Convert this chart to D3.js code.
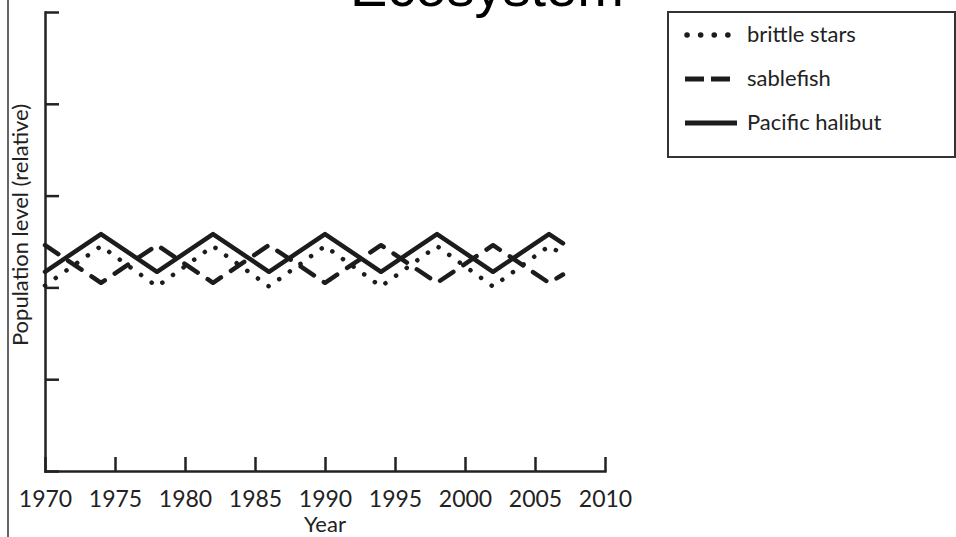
<!DOCTYPE html>
<html lang="en">
<head>
    <meta charset="UTF-8">
    <title>Ecosystem</title>
    <script src="https://d3js.org/d3.v7.min.js"></script>
    <style>
        body {
            margin: 0;
            background: #fff;
        }

        svg {
            display: block;
        }

        text {
            font-family: Lato, "Open Sans", sans-serif;
            fill: #222;
        }

        .title {
            font-family: "Liberation Sans", Arial, sans-serif;
            fill: #000;
        }

        .axis path, .axis line {
            stroke: #222;
            stroke-width: 2.5;
        }
    </style>
</head>

<body>
<div id="content"></div>

<script>
    // chart data
    const years = [1970, 1974, 1978, 1982, 1986, 1990, 1994, 1998, 2002, 2006, 2007];
    const brittleStars = [2.02, 2.45, 2.01, 2.45, 2.01, 2.45, 2.01, 2.45, 2.01, 2.45, 2.36];
    const sablefish = [2.46, 2.05, 2.46, 2.05, 2.46, 2.05, 2.46, 2.05, 2.46, 2.05, 2.14];
    const halibut = [2.17, 2.58, 2.17, 2.58, 2.17, 2.58, 2.17, 2.58, 2.17, 2.58, 2.48];

    const xTicks = [1970, 1975, 1980, 1985, 1990, 1995, 2000, 2005, 2010];
    const yTicks = [0, 1, 2, 3, 4, 5];

    const series = [
        { name: "brittle stars", values: brittleStars, dash: "0.1,13" },
        { name: "sablefish", values: sablefish, dash: "16,12" },
        { name: "Pacific halibut", values: halibut, dash: null }
    ];

    const width = 956, height = 537;

    const svg = d3.select("#content").append("svg")
        .attr("width", width)
        .attr("height", height);

    const x = d3.scaleLinear().domain([1970, 2010]).range([45, 605]);
    const y = d3.scaleLinear().domain([0, 5]).range([471, 12]);

    // title, mostly cut off at the top
    svg.append("text")
        .attr("class", "title")
        .attr("x", 487)
        .attr("y", 6)
        .attr("text-anchor", "middle")
        .style("font-size", "56px")
        .text("Ecosystem");

    // thin frame line on the left
    svg.append("line")
        .attr("x1", 8).attr("x2", 8)
        .attr("y1", 0).attr("y2", height)
        .attr("stroke", "#333")
        .attr("stroke-width", 1.5);

    // x axis, ticks pointing inward
    const xAxis = svg.append("g")
        .attr("class", "axis")
        .attr("transform", `translate(0,${y(0)})`)
        .call(d3.axisBottom(x).tickValues(xTicks).tickFormat(d3.format("d"))
            .tickSizeInner(-14).tickSizeOuter(0).tickPadding(20));
    xAxis.selectAll("text")
        .style("font-size", "23px")
        .attr("fill", "#222");

    // y axis, no labels
    svg.append("g")
        .attr("class", "axis")
        .attr("transform", `translate(${x(1970)},0)`)
        .call(d3.axisLeft(y).tickValues(yTicks).tickFormat("")
            .tickSizeInner(-14).tickSizeOuter(0));

    svg.selectAll(".axis .domain").attr("stroke-linecap", "square");

    // axis titles
    svg.append("text")
        .attr("x", (x(1970) + x(2010)) / 2)
        .attr("y", 532)
        .attr("text-anchor", "middle")
        .style("font-size", "22px")
        .text("Year");

    svg.append("text")
        .attr("transform", "translate(28,225) rotate(-90)")
        .attr("text-anchor", "middle")
        .style("font-size", "22px")
        .text("Population level (relative)");

    // the three series
    const line = d3.line()
        .x((d, i) => x(years[i]))
        .y(d => y(d));

    svg.append("g").selectAll("path")
        .data(series)
        .join("path")
        .attr("d", d => line(d.values))
        .attr("fill", "none")
        .attr("stroke", "#1c1c1c")
        .attr("stroke-width", 4.5)
        .attr("stroke-linecap", "round")
        .attr("stroke-linejoin", "round")
        .attr("stroke-dasharray", d => d.dash);

    // legend
    const legend = svg.append("g");
    legend.append("rect")
        .attr("x", 668).attr("y", 12)
        .attr("width", 287).attr("height", 145)
        .attr("fill", "#fff")
        .attr("stroke", "#333")
        .attr("stroke-width", 2);

    const legendDash = ["0.1,13.5", "19,7", null];
    const item = legend.selectAll("g.item")
        .data(series)
        .join("g")
        .attr("class", "item")
        .attr("transform", (d, i) => `translate(0,${35 + i * 44})`);

    item.append("line")
        .attr("x1", (d, i) => i === 0 ? 687 : 685)
        .attr("x2", (d, i) => i === 0 ? 728 : 737)
        .attr("stroke", "#1c1c1c")
        .attr("stroke-width", (d, i) => i === 0 ? 5.5 : 5)
        .attr("stroke-linecap", (d, i) => i === 0 ? "round" : "butt")
        .attr("stroke-dasharray", (d, i) => legendDash[i]);

    item.append("text")
        .attr("x", 747)
        .attr("y", 7)
        .style("font-size", "22px")
        .text(d => d.name);
</script>
</body>
</html>
